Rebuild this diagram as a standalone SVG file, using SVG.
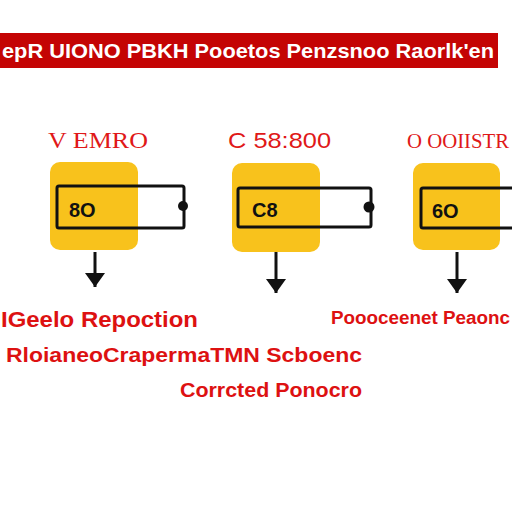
<svg xmlns="http://www.w3.org/2000/svg" width="512" height="512" viewBox="0 0 512 512">
<style>
.banner{fill:#C40404}
.btxt{font-family:"Liberation Sans","DejaVu Sans",sans-serif;font-size:21px;font-weight:bold;fill:#FFFFFF}
.ttl{font-family:"Liberation Serif","DejaVu Serif",serif;font-size:23px;fill:#E01818}
.ttl3{font-family:"Liberation Serif","DejaVu Serif",serif;font-size:20px;fill:#E01818}
.ttls{font-family:"Liberation Sans","DejaVu Sans",sans-serif;font-size:22px;fill:#E01818}
.card{fill:#F8C21C}
.bar{fill:none;stroke:#111;stroke-width:3}
.val{font-family:"Liberation Sans","DejaVu Sans",sans-serif;font-size:20px;font-weight:bold;fill:#111}
.lbl{font-family:"Liberation Sans","DejaVu Sans",sans-serif;font-weight:bold;fill:#DD1111}
.conn{stroke:#111;stroke-width:3;fill:none}
</style>
<defs>
<marker id="ah" viewBox="0 0 7 10" refX="7" refY="5" markerUnits="userSpaceOnUse" markerWidth="14" markerHeight="20" orient="auto">
<path d="M0,0 L7,5 L0,10 z" fill="#111"/>
</marker>
</defs>
<rect width="512" height="512" fill="#FFFFFF"/>
<g id="banner">
<rect class="banner" x="0" y="33" width="498" height="35"/>
<text class="btxt" x="2" y="58" textLength="492" lengthAdjust="spacingAndGlyphs">epR UIONO PBKH Pooetos Penzsnoo Raorlk'en</text>
</g>
<g id="node1">
<text class="ttl" x="48" y="148" textLength="100" lengthAdjust="spacingAndGlyphs">V EMRO</text>
<rect class="card" x="50" y="162" width="88" height="88" rx="10"/>
<rect class="bar" x="57" y="186" width="127" height="42" rx="2"/>
<circle cx="183" cy="206" r="5" fill="#111"/>
<text class="val" x="69" y="217">8O</text>
</g>
<g id="node2">
<text class="ttls" x="228" y="148" textLength="103" lengthAdjust="spacingAndGlyphs">C 58:800</text>
<rect class="card" x="232" y="163" width="88" height="89" rx="10"/>
<rect class="bar" x="238" y="188" width="133" height="39" rx="2"/>
<circle cx="369" cy="207" r="5.5" fill="#111"/>
<text class="val" x="252" y="217">C8</text>
</g>
<g id="node3">
<text class="ttl3" x="407" y="148" textLength="102" lengthAdjust="spacingAndGlyphs">O OOIISTR</text>
<rect class="card" x="413" y="163" width="87" height="87" rx="10"/>
<rect class="bar" x="421" y="188" width="100" height="40" rx="2"/>
<text class="val" x="432" y="218">6O</text>
</g>
<g id="connectors">
<line class="conn" x1="95" y1="252" x2="95" y2="287" marker-end="url(#ah)"/>
<line class="conn" x1="276" y1="252" x2="276" y2="293" marker-end="url(#ah)"/>
<line class="conn" x1="457" y1="252" x2="457" y2="293" marker-end="url(#ah)"/>
</g>
<g id="labels">
<text class="lbl" x="1" y="327" style="font-size:22px" textLength="197" lengthAdjust="spacingAndGlyphs">IGeelo Repoction</text>
<text class="lbl" x="331" y="324" style="font-size:18px" textLength="179" lengthAdjust="spacingAndGlyphs">Poooceenet Peaonc</text>
<text class="lbl" x="6" y="362" style="font-size:20px" textLength="356" lengthAdjust="spacingAndGlyphs">RloianeoCrapermaTMN Scboenc</text>
<text class="lbl" x="180" y="397" style="font-size:20px" textLength="182" lengthAdjust="spacingAndGlyphs">Corrcted Ponocro</text>
</g>
</svg>
